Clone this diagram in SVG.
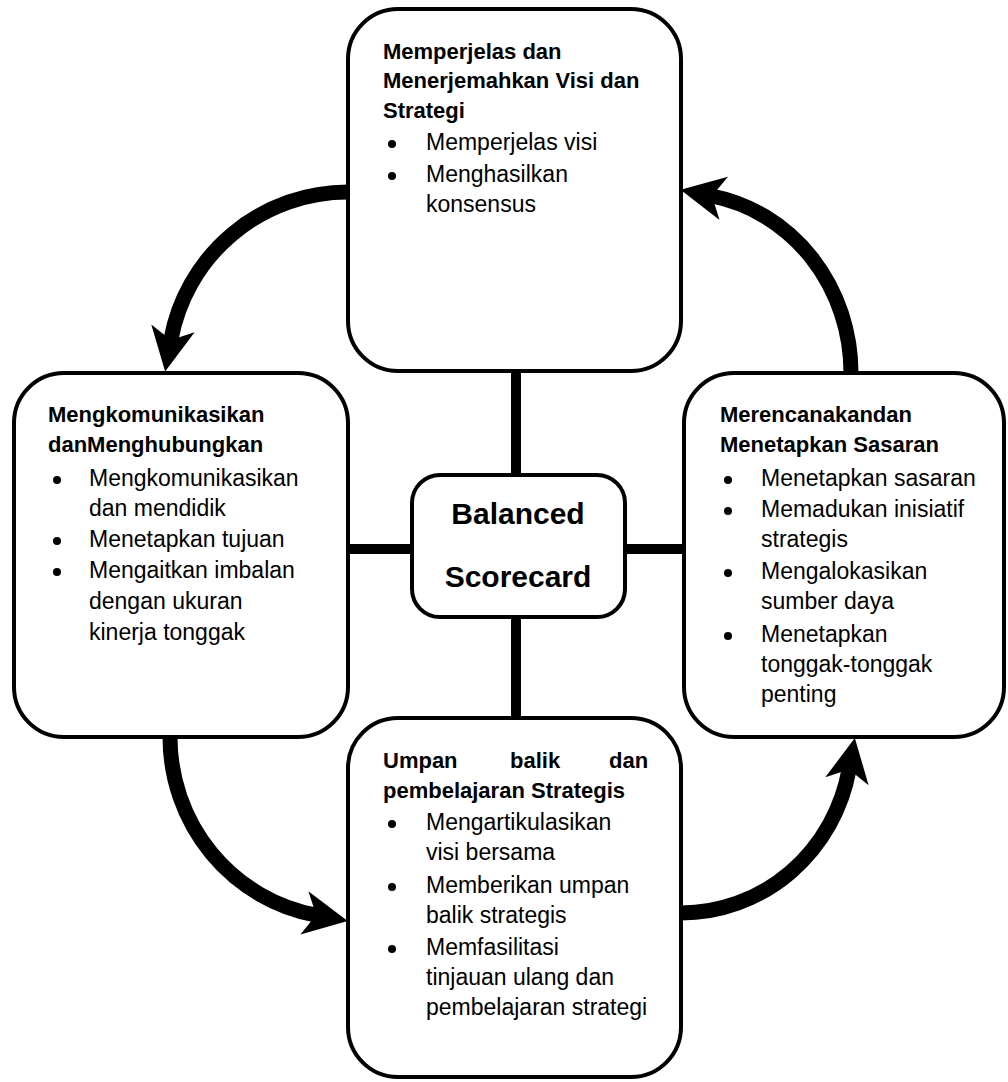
<svg xmlns="http://www.w3.org/2000/svg" width="1008" height="1082" viewBox="0 0 1008 1082">
<style>
.box{fill:#fff;stroke:#000;stroke-width:4}
.link{stroke:#000;stroke-width:10;fill:none}
.arc{stroke:#000;stroke-width:15;fill:none;marker-end:url(#ah)}
.t{font-family:"Liberation Sans",Arial,sans-serif;font-size:22px;font-weight:bold;fill:#000}
.b{font-family:"Liberation Sans",Arial,sans-serif;font-size:23px;fill:#000}
.dot{fill:#000}
.c{font-family:"Liberation Sans",Arial,sans-serif;font-size:30px;font-weight:bold;fill:#000;text-anchor:middle}
</style>
<defs>
<marker id="ah" markerUnits="userSpaceOnUse" markerWidth="50" markerHeight="50" viewBox="0 0 50 50" refX="12" refY="25" orient="auto">
<path d="M0,3 L44,25 L0,47 L12,25 Z" fill="#000"/>
</marker>
</defs>
<rect width="1008" height="1082" fill="#fff"/>
<g id="connectors">
<line class="link" x1="516" y1="371" x2="516" y2="475"/>
<line class="link" x1="516" y1="617" x2="516" y2="718"/>
<line class="link" x1="348" y1="549" x2="412" y2="549"/>
<line class="link" x1="625" y1="549" x2="684" y2="549"/>
<path class="arc" d="M348,192 A180,180 0 0 0 170.8,340.1"/>
<path class="arc" d="M851,373 A170,180 0 0 0 712,196"/>
<path class="arc" d="M170,737 A178,181 0 0 0 316.2,915.1"/>
<path class="arc" d="M681,913 A171,176 0 0 0 849.1,769.4"/>
</g>
<g id="top">
<rect class="box" x="348" y="9" width="333" height="362" rx="50"/>
<text class="t" x="383" y="59">Memperjelas dan</text>
<text class="t" x="383" y="88">Menerjemahkan Visi dan</text>
<text class="t" x="383" y="118">Strategi</text>
<circle class="dot" cx="392" cy="144" r="4"/><text class="b" x="426" y="150">Memperjelas visi</text>
<circle class="dot" cx="392" cy="176" r="4"/><text class="b" x="426" y="182">Menghasilkan</text>
<text class="b" x="426" y="212">konsensus</text>
</g>
<g id="left">
<rect class="box" x="14" y="373" width="334" height="364" rx="50"/>
<text class="t" x="48" y="422">Mengkomunikasikan</text>
<text class="t" x="48" y="452">danMenghubungkan</text>
<circle class="dot" cx="57" cy="480" r="4"/><text class="b" x="89" y="486">Mengkomunikasikan</text>
<text class="b" x="89" y="516">dan mendidik</text>
<circle class="dot" cx="57" cy="541" r="4"/><text class="b" x="89" y="547">Menetapkan tujuan</text>
<circle class="dot" cx="57" cy="572" r="4"/><text class="b" x="89" y="578">Mengaitkan imbalan</text>
<text class="b" x="89" y="609">dengan ukuran</text>
<text class="b" x="89" y="640">kinerja tonggak</text>
</g>
<g id="right">
<rect class="box" x="684" y="373" width="320" height="364" rx="50"/>
<text class="t" x="720" y="422">Merencanakandan</text>
<text class="t" x="720" y="452">Menetapkan Sasaran</text>
<circle class="dot" cx="728" cy="480" r="4"/><text class="b" x="761" y="486">Menetapkan sasaran</text>
<circle class="dot" cx="728" cy="511" r="4"/><text class="b" x="761" y="517">Memadukan inisiatif</text>
<text class="b" x="761" y="547">strategis</text>
<circle class="dot" cx="728" cy="573" r="4"/><text class="b" x="761" y="579">Mengalokasikan</text>
<text class="b" x="761" y="609">sumber daya</text>
<circle class="dot" cx="728" cy="636" r="4"/><text class="b" x="761" y="642">Menetapkan</text>
<text class="b" x="761" y="672">tonggak-tonggak</text>
<text class="b" x="761" y="702">penting</text>
</g>
<g id="bottom">
<rect class="box" x="348" y="718" width="333" height="359" rx="50"/>
<text class="t" x="383" y="768">Umpan</text><text class="t" x="510" y="768">balik</text><text class="t" x="609" y="768">dan</text>
<text class="t" x="383" y="798">pembelajaran Strategis</text>
<circle class="dot" cx="392" cy="824" r="4"/><text class="b" x="426" y="830">Mengartikulasikan</text>
<text class="b" x="426" y="860">visi bersama</text>
<circle class="dot" cx="392" cy="887" r="4"/><text class="b" x="426" y="893">Memberikan umpan</text>
<text class="b" x="426" y="923">balik strategis</text>
<circle class="dot" cx="392" cy="949" r="4"/><text class="b" x="426" y="955">Memfasilitasi</text>
<text class="b" x="426" y="985">tinjauan ulang dan</text>
<text class="b" x="426" y="1015">pembelajaran strategi</text>
</g>
<g id="center">
<rect class="box" x="412" y="475" width="213" height="142" rx="28"/>
<text class="c" x="518" y="524">Balanced</text>
<text class="c" x="518" y="587">Scorecard</text>
</g>
</svg>
